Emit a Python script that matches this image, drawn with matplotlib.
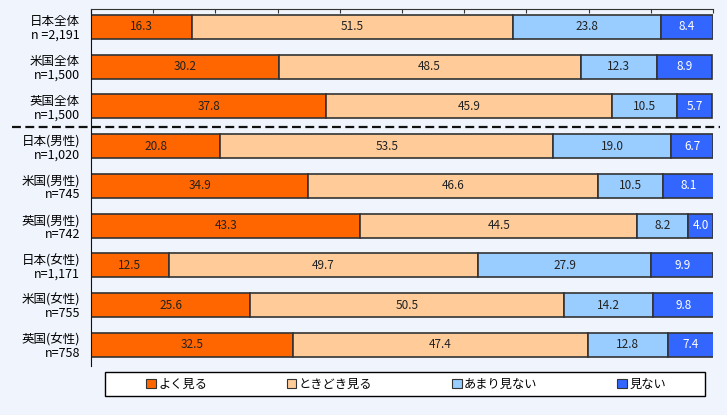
import matplotlib.pyplot as plt
import numpy as np
from matplotlib.patches import Patch, Rectangle

plt.rcParams['font.family'] = ['Noto Sans CJK JP', 'DejaVu Sans']

grupos = ["日本全体", "米国全体", "英国全体", "日本(男性)", "米国(男性)",
          "英国(男性)", "日本(女性)", "米国(女性)", "英国(女性)"]
muestras = ["n =2,191", "n=1,500", "n=1,500", "n=1,020", "n=745",
            "n=742", "n=1,171", "n=755", "n=758"]

categorias = ["よく見る", "ときどき見る", "あまり見ない", "見ない"]
yoku = [16.3, 30.2, 37.8, 20.8, 34.9, 43.3, 12.5, 25.6, 32.5]
tokidoki = [51.5, 48.5, 45.9, 53.5, 46.6, 44.5, 49.7, 50.5, 47.4]
amari = [23.8, 12.3, 10.5, 19.0, 10.5, 8.2, 27.9, 14.2, 12.8]
minai = [8.4, 8.9, 5.7, 6.7, 8.1, 4.0, 9.9, 9.8, 7.4]

colores = ['#FF6600', '#FFCC99', '#99CCFF', '#3366FF']
colores_texto = ['#222222', '#222222', '#222222', 'white']
fondo = '#F0F4FC'

fig = plt.figure(figsize=(7.27, 4.15), dpi=100, facecolor=fondo)
ax = fig.add_axes([91 / 727, 1 - 366 / 415, (713 - 91) / 727, (366 - 9) / 415])
ax.set_facecolor(fondo)

y = np.arange(len(grupos))
izquierda = np.zeros(len(grupos))
for serie, color, ctexto in zip([yoku, tokidoki, amari, minai], colores, colores_texto):
    valores = np.array(serie)
    ax.barh(y, valores, left=izquierda, height=0.6, color=color,
            edgecolor='#333333', linewidth=1.2)
    for yi, xi, v in zip(y, izquierda, valores):
        ax.text(xi + v / 2, yi, f'{v:.1f}', ha='center', va='center',
                fontsize=8.5, color=ctexto)
    izquierda += valores

ax.set_xlim(0, 100)
ax.set_ylim(8.53, -0.45)
ax.set_yticks(y)
ax.set_yticklabels([f'{g}\n{n}' for g, n in zip(grupos, muestras)],
                   fontsize=9, linespacing=1.05)
ax.tick_params(axis='y', length=0, pad=8)
ax.xaxis.tick_top()
ax.set_xticks(np.arange(0, 101, 10))
ax.tick_params(axis='x', direction='in', length=3, color='#333333',
               labeltop=False, labelbottom=False)
ax.spines['right'].set_visible(False)
ax.spines['bottom'].set_visible(False)
ax.spines['left'].set_color('#111111')
ax.spines['top'].set_color('#333333')

# separador entre total y por sexo
fig.add_artist(plt.Line2D([12 / 727, 720 / 727], [1 - 127 / 415, 1 - 127 / 415],
                          color='#111111', linestyle=(0, (4, 2)), linewidth=1.6))

# marco de la leyenda
fig.add_artist(Rectangle((105 / 727, 1 - 396 / 415), 600 / 727, 24 / 415,
                         transform=fig.transFigure, facecolor='white',
                         edgecolor='black', linewidth=1.0))

handles = [Patch(facecolor=c, edgecolor='#333333', linewidth=0.8) for c in colores]
leg = fig.legend(handles, categorias, loc='center',
                 bbox_to_anchor=(406 / 727, 1 - 384 / 415),
                 ncol=4, fontsize=8.8, frameon=False,
                 handlelength=0.8, handleheight=0.8, handletextpad=0.2,
                 columnspacing=6.5, borderpad=0.2)
leg.set_zorder(5)

plt.savefig('out.png', dpi=100, facecolor=fondo)
